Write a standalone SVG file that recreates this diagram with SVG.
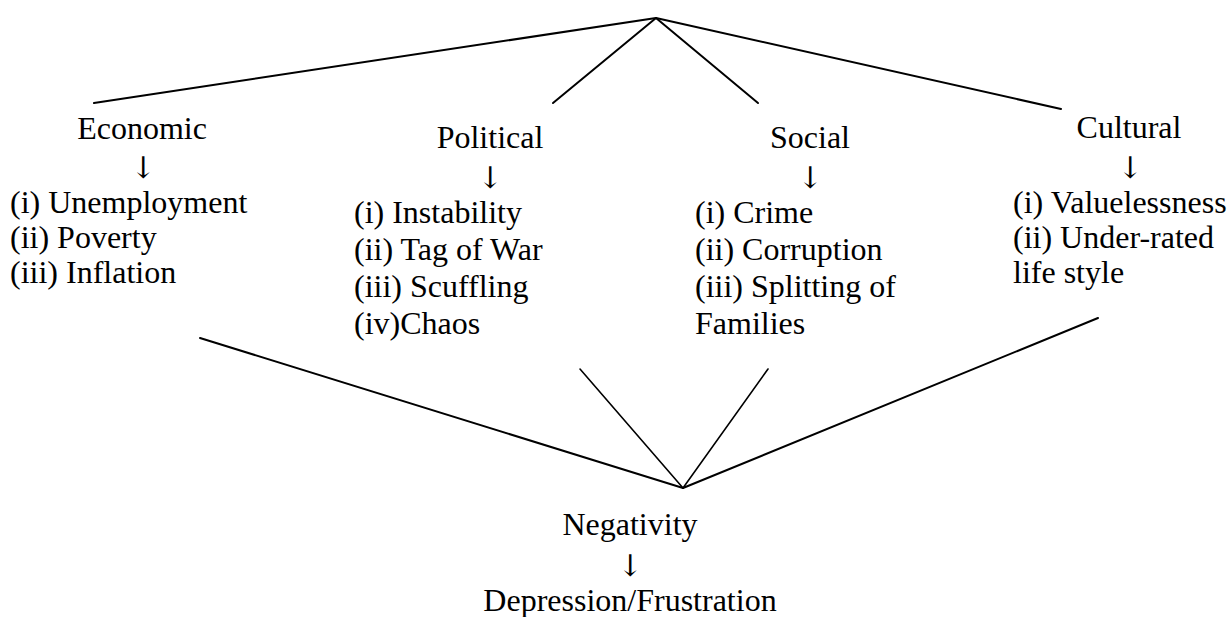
<svg xmlns="http://www.w3.org/2000/svg" width="1229" height="617" viewBox="0 0 1229 617">
<style>
.t{font-family:'Liberation Serif','Times New Roman','DejaVu Serif',serif;font-size:32px;fill:#000}
.c{text-anchor:middle}
.a{font-family:'DejaVu Serif','Liberation Serif',serif;font-size:30px}
line{stroke:#000;stroke-width:2;stroke-linecap:round}
.thin{stroke-width:1.6}
</style>
<rect width="1229" height="617" fill="#fff"/>
<g id="connectors">
<line x1="656" y1="18" x2="94" y2="103"/>
<line x1="656" y1="18" x2="553" y2="103"/>
<line x1="656" y1="18" x2="758" y2="103"/>
<line x1="656" y1="18" x2="1061" y2="109"/>
<line x1="683" y1="488" x2="200" y2="338"/>
<line class="thin" x1="683" y1="488" x2="580" y2="369"/>
<line class="thin" x1="683" y1="488" x2="768" y2="369"/>
<line x1="683" y1="488" x2="1098" y2="318"/>
</g>
<g id="economic" class="t" font-family="Liberation Serif, serif">
<text class="c" x="142" y="139">Economic</text>
<text class="c a" x="143" y="178">↓︎</text>
<text x="10" y="213">(i) Unemployment</text>
<text x="10" y="248">(ii) Poverty</text>
<text x="10" y="283">(iii) Inflation</text>
</g>
<g id="political" class="t" font-family="Liberation Serif, serif">
<text class="c" x="490" y="148">Political</text>
<text class="c a" x="490" y="188">↓︎</text>
<text x="354" y="223">(i) Instability</text>
<text x="354" y="260">(ii) Tag of War</text>
<text x="354" y="297">(iii) Scuffling</text>
<text x="354" y="334">(iv)Chaos</text>
</g>
<g id="social" class="t" font-family="Liberation Serif, serif">
<text class="c" x="810" y="148">Social</text>
<text class="c a" x="810" y="188">↓︎</text>
<text x="695" y="223">(i) Crime</text>
<text x="695" y="260">(ii) Corruption</text>
<text x="695" y="297">(iii) Splitting of</text>
<text x="695" y="334">Families</text>
</g>
<g id="cultural" class="t" font-family="Liberation Serif, serif">
<text class="c" x="1129" y="138">Cultural</text>
<text class="c a" x="1130" y="178">↓︎</text>
<text x="1013" y="213">(i) Valuelessness</text>
<text x="1013" y="248">(ii) Under-rated</text>
<text x="1013" y="283">life style</text>
</g>
<g id="result" class="t" font-family="Liberation Serif, serif">
<text class="c" x="630" y="535">Negativity</text>
<text class="c a" x="630" y="576">↓︎</text>
<text class="c" x="630" y="611">Depression/Frustration</text>
</g>
</svg>
